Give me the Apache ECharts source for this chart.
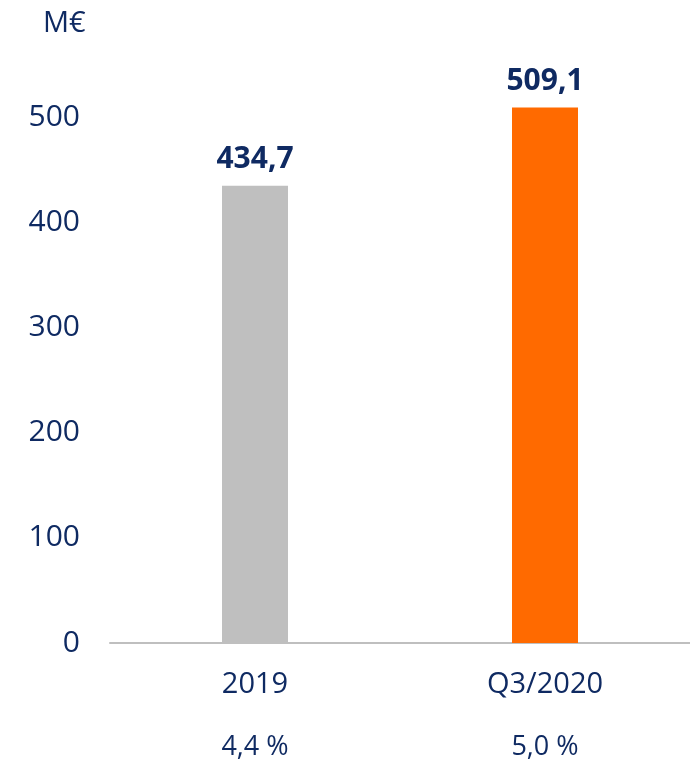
<!DOCTYPE html>
<html>
<head>
<meta charset="utf-8">
<script src="https://cdn.jsdelivr.net/npm/echarts@6/dist/echarts.min.js"></script>
<style>
  html, body { margin: 0; padding: 0; background: #fff; }
  #main { width: 690px; height: 765px; }
</style>
</head>
<body>
<div id="main"></div>
<script>
// data
let categories = ['2019', 'Q3/2020'];
let values = [434.7, 509.1];
let percents = ['4,4 %', '5,0 %'];
let barColors = ['#bfbfbf', '#ff6a00'];

let navy = '#0f2a62';
let font = 'Open Sans';

let myChart = echarts.init(document.getElementById('main'));
let option = {
    animation: false,
    textStyle: { fontFamily: font },
    graphic: [{
        type: 'text',
        left: 43,
        top: 9,
        style: { text: 'M€', fontSize: 29, fill: navy, fontFamily: font }
    }],
    grid: { left: 110, right: 0, top: 12, bottom: 122 },
    xAxis: [
        {
            type: 'category',
            data: categories,
            axisLine: { lineStyle: { color: '#bfbfbf', width: 2 } },
            axisTick: { show: false },
            axisLabel: { color: navy, fontSize: 29, margin: 27, fontFamily: font }
        },
        {
            type: 'category',
            position: 'bottom',
            data: percents,
            axisLine: { show: false },
            axisTick: { show: false },
            axisLabel: { color: navy, fontSize: 27, margin: 91, fontFamily: font }
        }
    ],
    yAxis: {
        type: 'value',
        min: 0,
        max: 600,
        interval: 100,
        splitLine: { show: false },
        axisLine: { show: false },
        axisTick: { show: false },
        axisLabel: {
            color: navy, fontSize: 30, margin: 30, fontFamily: font,
            formatter: function (v) { return v > 500 ? '' : v; }
        }
    },
    series: [{
        type: 'bar',
        xAxisIndex: 0,
        barWidth: 66,
        data: values.map(function (v, i) {
            return { value: v, itemStyle: { color: barColors[i] } };
        }),
        label: {
            show: true,
            position: 'top',
            distance: 11,
            color: navy,
            fontSize: 30,
            fontWeight: 'bold',
            fontFamily: font,
            formatter: function (p) { return p.value.toFixed(1).replace('.', ','); }
        }
    }]
};
myChart.setOption(option);
</script>
</body>
</html>
